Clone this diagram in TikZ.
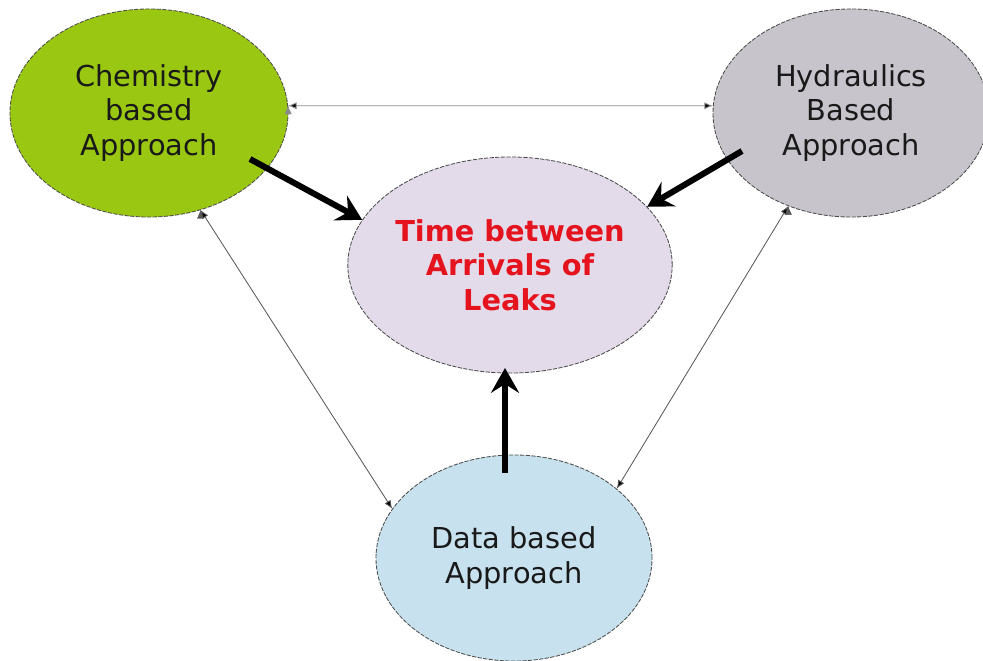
\documentclass[tikz,border=0pt]{standalone}
\usepackage{fontspec}
\setmainfont{DejaVu Sans}
\usetikzlibrary{shapes.geometric,arrows.meta,calc}
\definecolor{chemgreen}{HTML}{9AC812}
\definecolor{hydgray}{HTML}{C7C5CB}
\definecolor{leaklilac}{HTML}{E3DBEA}
\definecolor{datablue}{HTML}{C7E2EE}
\definecolor{leakred}{HTML}{E5131D}
\begin{document}
\begin{tikzpicture}[x=0.025cm, y=-0.025cm,
        main node/.style={ellipse,draw=black!70,dash pattern=on 3pt off 1pt,line width=0.6pt,inner sep=0pt,align=center,text=black!90,font=\fontsize{20.5}{24.5}\selectfont},
        thin arrow/.style={{Latex[length=6pt,width=5pt]}-{Latex[length=6pt,width=5pt]},line width=0.6pt,draw=black!65},
        big arrow/.style={-{Stealth[length=0.62cm,width=0.7cm,inset=0.22cm]},line width=4.3pt}]
                \useasboundingbox (0,0) rectangle (983,660);
                \node[main node, fill=chemgreen, minimum width=6.95cm, minimum height=5.2cm] at (149, 113) (chem) {Chemistry\\based\\Approach};
                \node[main node, fill=hydgray, minimum width=6.9cm, minimum height=5.2cm] at (851, 113) (hyd) {Hydraulics\\Based\\Approach};
                \node[main node, fill=leaklilac, minimum width=7.15cm, minimum height=5.4cm, text=leakred, font=\fontsize{20.5}{24.5}\selectfont\bfseries] at (510, 265) (tbal) {Time between\\Arrivals of\\Leaks};
                \node[main node, fill=datablue, minimum width=6.9cm, minimum height=5.15cm] at (514, 558) (data) {Data based\\Approach};

            \path[thin arrow, draw=black!45] (chem.3) edge (hyd.177);
            \path[thin arrow] (chem.-62) edge (data.158);
            \path[thin arrow] (hyd.236) edge (data.34);

            \path[big arrow] ($(chem)+(101,46)$) edge (tbal.163);
            \path[big arrow] ($(hyd)+(-109,38)$) edge (tbal.23);
            \path[big arrow] ($(data)+(-9,-85)$) edge ($(tbal)+(-5,103)$);

            \end{tikzpicture}
\end{document}
